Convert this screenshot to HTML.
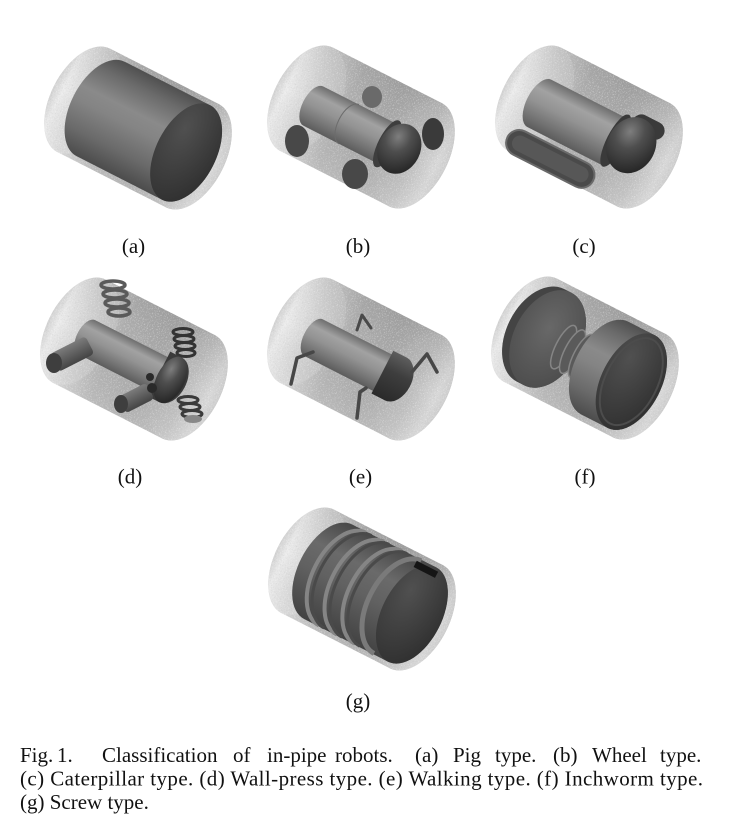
<!DOCTYPE html>
<html>
<head>
<meta charset="utf-8">
<style>
  html,body{margin:0;padding:0;background:#fff;}
  svg{display:block;}
  text{font-family:"Liberation Serif","Times New Roman",serif;fill:#111;}
</style>
</head>
<body>
<svg width="729" height="833" viewBox="0 0 729 833" xmlns="http://www.w3.org/2000/svg">
<defs>
  <filter id="speckle" x="-10%" y="-10%" width="120%" height="120%">
    <feTurbulence type="fractalNoise" baseFrequency="0.9" numOctaves="1" seed="3" result="n"/>
    <feColorMatrix in="n" type="matrix" values="0 0 0 0 1  0 0 0 0 1  0 0 0 0 1  4 0 0 0 -2.1" result="w"/>
    <feComposite in="w" in2="SourceAlpha" operator="in"/>
  </filter>
  <filter id="speckleD" x="-10%" y="-10%" width="120%" height="120%">
    <feTurbulence type="fractalNoise" baseFrequency="0.85" numOctaves="1" seed="11" result="n"/>
    <feColorMatrix in="n" type="matrix" values="0 0 0 0 0.45  0 0 0 0 0.45  0 0 0 0 0.45  4 0 0 0 -2.2" result="d"/>
    <feComposite in="d" in2="SourceAlpha" operator="in"/>
  </filter>
  <linearGradient id="shell" x1="0" y1="0" x2="1" y2="0">
    <stop offset="0" stop-color="#d6d6d6"/>
    <stop offset="0.08" stop-color="#e8e8e8"/>
    <stop offset="0.2" stop-color="#cccccc"/>
    <stop offset="0.38" stop-color="#b0b0b0"/>
    <stop offset="0.6" stop-color="#a8a8a8"/>
    <stop offset="0.8" stop-color="#b6b6b6"/>
    <stop offset="0.93" stop-color="#d6d6d6"/>
    <stop offset="1" stop-color="#cacaca"/>
  </linearGradient>
  <linearGradient id="shellY" x1="0" y1="0" x2="0" y2="1">
    <stop offset="0" stop-color="#505050" stop-opacity="0.14"/>
    <stop offset="0.5" stop-color="#808080" stop-opacity="0"/>
    <stop offset="1" stop-color="#ffffff" stop-opacity="0.14"/>
  </linearGradient>
  <linearGradient id="farEnd" x1="0" y1="0" x2="1" y2="0">
    <stop offset="0" stop-color="#d2d2d2"/>
    <stop offset="0.15" stop-color="#ececec"/>
    <stop offset="0.5" stop-color="#d6d6d6"/>
    <stop offset="1" stop-color="#c0c0c0"/>
  </linearGradient>
  <linearGradient id="nearEnd" x1="0" y1="0" x2="1" y2="0">
    <stop offset="0" stop-color="#acacac"/>
    <stop offset="0.5" stop-color="#bebebe"/>
    <stop offset="0.85" stop-color="#d8d8d8"/>
    <stop offset="1" stop-color="#cecece"/>
  </linearGradient>
  <linearGradient id="pigBody" x1="0" y1="0" x2="0" y2="1">
    <stop offset="0" stop-color="#505050"/>
    <stop offset="0.15" stop-color="#6a6a6a"/>
    <stop offset="0.38" stop-color="#8a8a8a"/>
    <stop offset="0.52" stop-color="#848484"/>
    <stop offset="0.78" stop-color="#6a6a6a"/>
    <stop offset="1" stop-color="#4c4c4c"/>
  </linearGradient>
  <linearGradient id="screwBody" x1="0" y1="0" x2="0" y2="1">
    <stop offset="0" stop-color="#484848"/>
    <stop offset="0.3" stop-color="#6a6a6a"/>
    <stop offset="0.55" stop-color="#616161"/>
    <stop offset="1" stop-color="#424242"/>
  </linearGradient>
  <radialGradient id="pigFace" cx="0.3" cy="0.3" r="0.85">
    <stop offset="0" stop-color="#505050"/>
    <stop offset="1" stop-color="#2e2e2e"/>
  </radialGradient>
  <radialGradient id="fFace" cx="0.45" cy="0.4" r="0.7">
    <stop offset="0" stop-color="#686868"/>
    <stop offset="1" stop-color="#4a4a4a"/>
  </radialGradient>
  <linearGradient id="lightBody" x1="0" y1="0" x2="0" y2="1">
    <stop offset="0" stop-color="#6e6e6e"/>
    <stop offset="0.25" stop-color="#a2a2a2"/>
    <stop offset="0.5" stop-color="#939393"/>
    <stop offset="0.8" stop-color="#737373"/>
    <stop offset="1" stop-color="#5c5c5c"/>
  </linearGradient>
  <radialGradient id="dome" cx="0.35" cy="0.3" r="0.75">
    <stop offset="0" stop-color="#7e7e7e"/>
    <stop offset="0.4" stop-color="#4e4e4e"/>
    <stop offset="1" stop-color="#262626"/>
  </radialGradient>
  <linearGradient id="headG" x1="0" y1="0" x2="0" y2="1">
    <stop offset="0" stop-color="#5e5e5e"/>
    <stop offset="0.4" stop-color="#3e3e3e"/>
    <stop offset="1" stop-color="#2a2a2a"/>
  </linearGradient>
  <linearGradient id="rollerG" x1="0" y1="0" x2="0" y2="1">
    <stop offset="0" stop-color="#7c7c7c"/>
    <stop offset="1" stop-color="#444444"/>
  </linearGradient>
  <g id="pipe">
    <path d="M-61,-58 H61 A33,58 0 0 1 61,58 H-61 A33,58 0 0 1 -61,-58 Z" fill="url(#shell)"/>
    <ellipse cx="-61" cy="0" rx="33" ry="58" fill="url(#farEnd)"/>
    <ellipse cx="61" cy="0" rx="33" ry="58" fill="url(#nearEnd)"/>
    <path d="M-61,-58 H61 A33,58 0 0 1 61,58 H-61 A33,58 0 0 1 -61,-58 Z" fill="url(#shellY)"/>
    <path d="M-61,-58 H61 A33,58 0 0 1 61,58 H-61 A33,58 0 0 1 -61,-58 Z" fill="#fff" filter="url(#speckle)" opacity="0.45"/>
    <path d="M-61,-58 H61 A33,58 0 0 1 61,58 H-61 A33,58 0 0 1 -61,-58 Z" fill="#fff" filter="url(#speckleD)" opacity="0.35"/>
  </g>
</defs>

<!-- (a) Pig -->
<g transform="translate(138,128) rotate(27)">
  <use href="#pipe"/>
  <path d="M-42,-53 H54 A30,53 0 0 1 54,53 H-42 A30,53 0 0 1 -42,-53 Z" fill="url(#pigBody)"/>
  <ellipse cx="54" cy="0" rx="30" ry="53" fill="url(#pigFace)"/>
</g>

<!-- (b) Wheel -->
<g transform="translate(361,127) rotate(27)"><use href="#pipe"/></g>
<ellipse cx="372" cy="97" rx="10" ry="11" fill="#6a6a6a"/>
<ellipse cx="433" cy="134" rx="11" ry="16" fill="#3a3a3a"/>
<g transform="translate(361,127) rotate(27)">
  <path d="M-52,-19 H30 V25 H-52 A11,22 0 0 1 -52,-19 Z" fill="url(#lightBody)"/>
  <path d="M-12,-19 A11,22 0 0 0 -12,25" stroke="#6c6c6c" stroke-width="1" fill="none"/>
  <ellipse cx="31" cy="3" rx="9" ry="26" fill="#3e3e3e"/>
  <ellipse cx="44" cy="2" rx="21" ry="26" fill="url(#dome)"/>
</g>
<ellipse cx="297" cy="141" rx="12" ry="16" fill="#484848"/>
<ellipse cx="355" cy="174" rx="13" ry="15" fill="#484848"/>

<!-- (c) Caterpillar -->
<g transform="translate(589,127) rotate(27)">
  <use href="#pipe"/>
  <rect x="36" y="-36" width="34" height="18" rx="9" fill="#3a3a3a"/>
  <path d="M-55,-25 H30 V28 H-55 A13,26.5 0 0 1 -55,-25 Z" fill="url(#lightBody)"/>
  <rect x="-68" y="33" width="96" height="26" rx="13" fill="#4a4a4a" stroke="#6a6a6a" stroke-width="2"/>
  <rect x="-62" y="38" width="84" height="16" rx="8" fill="#575757"/>
  <ellipse cx="30" cy="0" rx="9" ry="29" fill="#3a3a3a"/>
  <ellipse cx="46" cy="-3" rx="24" ry="29" fill="url(#dome)"/>
</g>

<!-- (d) Wall-press -->
<g transform="translate(134,359) rotate(27)"><use href="#pipe"/></g>
<g fill="none" stroke="#5a5a5a" stroke-width="3.5">
  <ellipse cx="113" cy="285" rx="12" ry="4"/>
  <ellipse cx="115" cy="294" rx="12" ry="4"/>
  <ellipse cx="117" cy="303" rx="12" ry="4"/>
  <ellipse cx="119" cy="312" rx="11" ry="4"/>
</g>
<g fill="none" stroke="#333" stroke-width="3">
  <ellipse cx="183" cy="332" rx="10" ry="3.5"/>
  <ellipse cx="184" cy="339" rx="10" ry="3.5"/>
  <ellipse cx="185" cy="346" rx="10" ry="3.5"/>
  <ellipse cx="186" cy="353" rx="9" ry="3.5"/>
</g>
<g transform="translate(134,359) rotate(27)">
  <path d="M-52,-17 H31 V21 H-52 A10,19 0 0 1 -52,-17 Z" fill="url(#lightBody)"/>
  <path d="M29,-23 H42 A16,25 0 0 1 42,27 H29 Z" fill="#3a3a3a"/>
  <ellipse cx="42" cy="2" rx="14" ry="25" fill="url(#dome)"/>
</g>
<g transform="translate(72,354) rotate(-27)"><rect x="-20" y="-10" width="40" height="20" rx="4" fill="url(#rollerG)"/></g>
<ellipse cx="54" cy="363" rx="8" ry="10" fill="#3e3e3e"/>
<g transform="translate(136,398) rotate(-27)"><rect x="-16" y="-9" width="32" height="18" rx="4" fill="url(#rollerG)"/></g>
<ellipse cx="121" cy="404" rx="7" ry="9" fill="#3e3e3e"/>
<circle cx="152" cy="388" r="5" fill="#2a2a2a"/>
<circle cx="150" cy="377" r="4" fill="#2a2a2a"/>
<g fill="none" stroke="#3a3a3a" stroke-width="3">
  <ellipse cx="188" cy="400" rx="10" ry="3.5"/>
  <ellipse cx="190" cy="407" rx="10" ry="3.5"/>
  <ellipse cx="192" cy="414" rx="10" ry="3.5"/>
</g>
<ellipse cx="193" cy="419" rx="9" ry="4" fill="#888"/>

<!-- (e) Walking -->
<g transform="translate(361,359) rotate(27)"><use href="#pipe"/></g>
<polyline points="357,330 362,315 371,328" fill="none" stroke="#4a4a4a" stroke-width="3" stroke-linejoin="round" stroke-linecap="round"/>
<g transform="translate(361,359) rotate(27)">
  <path d="M-52,-18 H26 V23 H-52 A10,20.5 0 0 1 -52,-18 Z" fill="url(#lightBody)"/>
  <path d="M25,-22 H40 A16,24 0 0 1 40,26 H25 Z" fill="url(#headG)"/>
</g>
<g fill="none" stroke="#474747" stroke-width="3.5" stroke-linejoin="round" stroke-linecap="round">
  <polyline points="291,384 297,358 313,352"/>
  <polyline points="357,418 360,392 366,388"/>
  <polyline points="412,372 427,354 437,372"/>
</g>

<!-- (f) Inchworm -->
<g transform="translate(585,358) rotate(27)">
  <use href="#pipe"/>
  <path d="M-50,-52 H-42 A34,52 0 0 1 -42,52 H-50 A34,52 0 0 1 -50,-52 Z" fill="#444"/>
  <ellipse cx="-42" cy="0" rx="34" ry="52" fill="url(#fFace)"/>
  <path d="M-30,-18 H22 V18 H-30 Z" fill="#4c4c4c"/>
  <ellipse cx="-24" cy="0" rx="8" ry="24" fill="#5a5a5a" stroke="#858585" stroke-width="1.5"/>
  <ellipse cx="-14" cy="0" rx="8" ry="24" fill="#5a5a5a" stroke="#858585" stroke-width="1.5"/>
  <ellipse cx="-4" cy="0" rx="8" ry="24" fill="#5a5a5a" stroke="#858585" stroke-width="1.5"/>
  <path d="M4,-22 H22 V22 H4 A9,22 0 0 1 4,-22 Z" fill="url(#lightBody)" opacity="0.75"/>
  <path d="M22,-52 H52 A30,52 0 0 1 52,52 H22 A30,52 0 0 1 22,-52 Z" fill="url(#pigBody)"/>
  <ellipse cx="52" cy="0" rx="30" ry="52" fill="url(#pigFace)"/>
  <ellipse cx="52" cy="0" rx="26" ry="47" fill="none" stroke="#4c4c4c" stroke-width="2"/>
</g>

<!-- (g) Screw -->
<g transform="translate(362,589) rotate(27)">
  <use href="#pipe"/>
  <path d="M-38,-53 H56 A30,53 0 0 1 56,53 H-38 A30,53 0 0 1 -38,-53 Z" fill="url(#screwBody)"/>
  <g fill="none">
    <path d="M-22,-52 A30,52 0 0 0 -22,52" stroke="#858585" stroke-width="4"/>
    <path d="M-16,-52 A30,52 0 0 0 -16,52" stroke="#4a4a4a" stroke-width="3"/>
    <path d="M-2,-52 A30,52 0 0 0 -2,52" stroke="#858585" stroke-width="4"/>
    <path d="M4,-52 A30,52 0 0 0 4,52" stroke="#4a4a4a" stroke-width="3"/>
    <path d="M18,-52 A30,52 0 0 0 18,52" stroke="#858585" stroke-width="4"/>
    <path d="M24,-52 A30,52 0 0 0 24,52" stroke="#4a4a4a" stroke-width="3"/>
    <path d="M40,-52 A30,52 0 0 0 40,52" stroke="#7a7a7a" stroke-width="5"/>
  </g>
  <ellipse cx="56" cy="0" rx="30" ry="53" fill="url(#pigFace)"/>
  <rect x="36" y="-50" width="24" height="7" fill="#151515"/>
</g>

<!-- labels -->
<g font-size="21" text-anchor="middle">
  <text x="133.5" y="253">(a)</text>
  <text x="358" y="253">(b)</text>
  <text x="584" y="253">(c)</text>
  <text x="130" y="483.5">(d)</text>
  <text x="360.5" y="483.5">(e)</text>
  <text x="585" y="483.5">(f)</text>
  <text x="358" y="708">(g)</text>
</g>

<!-- caption -->
<g font-size="21">
  <text x="20" y="762">Fig.</text>
  <text x="57" y="762">1.</text>
  <text x="102" y="762">Classification</text>
  <text x="233" y="762">of</text>
  <text x="267" y="762">in-pipe</text>
  <text x="335" y="762">robots.</text>
  <text x="415" y="762">(a)</text>
  <text x="453" y="762">Pig</text>
  <text x="495" y="762">type.</text>
  <text x="553" y="762">(b)</text>
  <text x="592" y="762">Wheel</text>
  <text x="660" y="762">type.</text>
  <text x="20" y="785.7" textLength="683" lengthAdjust="spacing">(c) Caterpillar type. (d) Wall-press type. (e) Walking type. (f) Inchworm type.</text>
  <text x="20" y="809">(g) Screw type.</text>
</g>
</svg>
</body>
</html>
